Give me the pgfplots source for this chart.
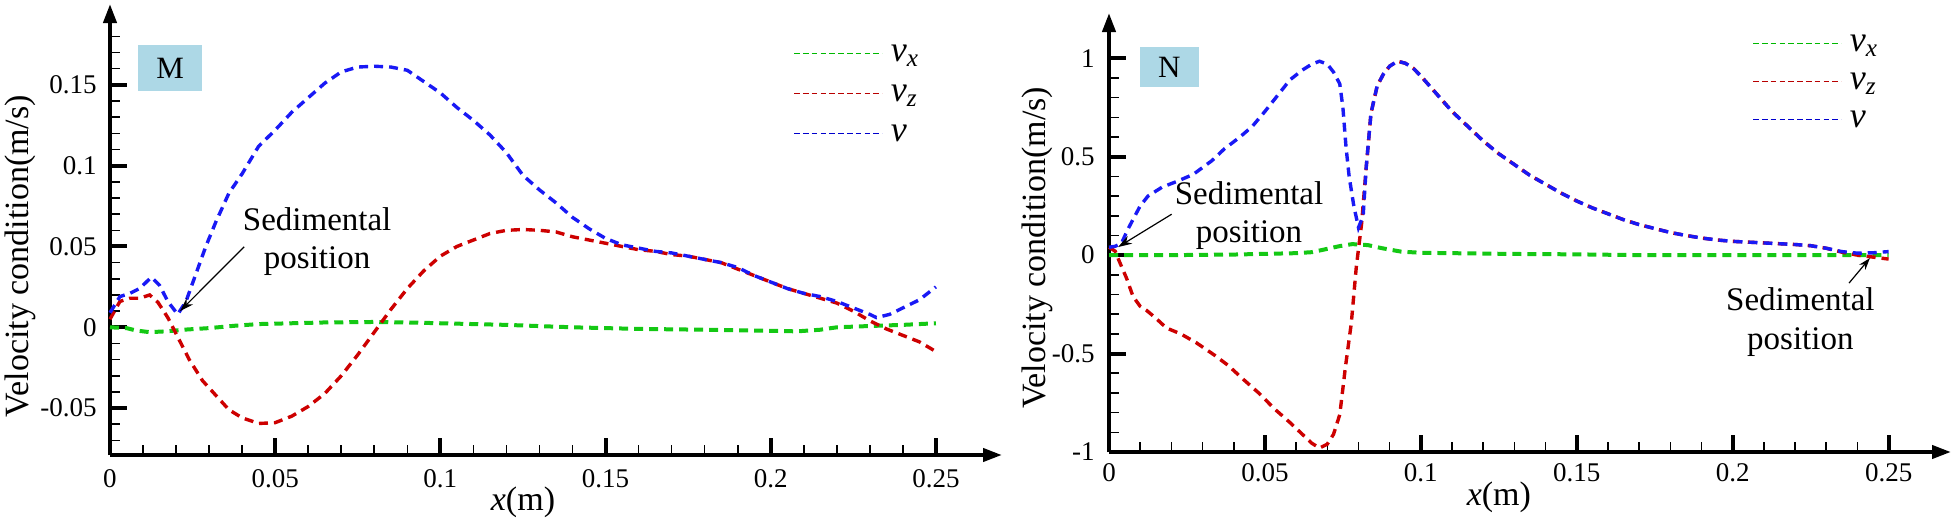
\documentclass[border=0pt]{standalone}
\usepackage{pgfplots}
\pgfplotsset{compat=1.18}
\usepackage{fontspec}
\setmainfont{Liberation Serif}
\usetikzlibrary{arrows.meta}
\definecolor{cgreen}{RGB}{20,200,20}
\definecolor{cred}{RGB}{205,0,0}
\definecolor{cblue}{RGB}{25,25,245}
\definecolor{lgreen}{RGB}{0,185,0}
\definecolor{lred}{RGB}{185,0,0}
\definecolor{lblue}{RGB}{0,0,205}
\definecolor{boxblue}{RGB}{173,216,230}

\pgfplotstableread{
x y
0 0.009
0.003 0.019
0.006 0.021
0.009 0.024
0.0125 0.031
0.015 0.026
0.0175 0.016
0.0205 0.008
0.023 0.016
0.026 0.033
0.029 0.050
0.032 0.065
0.036 0.083
0.040 0.095
0.045 0.112
0.050 0.122
0.055 0.133
0.060 0.142
0.065 0.151
0.070 0.158
0.075 0.161
0.080 0.1615
0.085 0.161
0.090 0.159
0.095 0.152
0.100 0.145
0.105 0.136
0.110 0.128
0.115 0.119
0.120 0.108
0.125 0.094
0.130 0.085
0.135 0.077
0.140 0.068
0.145 0.061
0.150 0.055
0.155 0.051
0.160 0.049
0.165 0.047
0.170 0.046
0.175 0.044
0.180 0.042
0.185 0.040
0.190 0.037
0.195 0.032
0.200 0.028
0.205 0.024
0.210 0.021
0.215 0.019
0.220 0.016
0.225 0.012
0.230 0.008
0.232 0.006
0.236 0.008
0.240 0.012
0.245 0.017
0.250 0.025
}\Mv

\pgfplotstableread{
x y
0 0.005
0.003 0.016
0.006 0.018
0.009 0.018
0.012 0.020
0.0145 0.0155
0.0175 0.006
0.020 -0.004
0.024 -0.020
0.028 -0.033
0.032 -0.042
0.036 -0.051
0.040 -0.056
0.045 -0.0595
0.050 -0.059
0.055 -0.055
0.060 -0.049
0.065 -0.041
0.070 -0.030
0.075 -0.017
0.080 -0.003
0.085 0.011
0.090 0.024
0.095 0.035
0.100 0.044
0.105 0.050
0.110 0.054
0.115 0.058
0.120 0.060
0.125 0.0605
0.130 0.060
0.135 0.059
0.140 0.056
0.145 0.054
0.150 0.052
0.155 0.050
0.160 0.048
0.165 0.047
0.170 0.045
0.175 0.044
0.180 0.042
0.185 0.040
0.190 0.036
0.195 0.032
0.200 0.028
0.205 0.024
0.210 0.021
0.215 0.018
0.220 0.015
0.225 0.010
0.230 0.004
0.235 -0.001
0.240 -0.005
0.245 -0.009
0.250 -0.015
}\Mvz

\pgfplotstableread{
x y
0 0.0
0.005 -0.0005
0.008 -0.002
0.012 -0.003
0.017 -0.0025
0.023 -0.0014
0.030 -0.0005
0.038 0.001
0.045 0.002
0.055 0.0025
0.065 0.003
0.080 0.0033
0.090 0.003
0.100 0.0025
0.120 0.0015
0.140 0.000
0.160 -0.001
0.180 -0.0015
0.200 -0.0022
0.208 -0.0025
0.215 -0.0015
0.220 0.000
0.230 0.0008
0.240 0.0015
0.250 0.0025
}\Mvx

\pgfplotstableread{
x y
0 0.04
0.002 0.045
0.004 0.06
0.006 0.13
0.008 0.19
0.010 0.25
0.0125 0.30
0.017 0.345
0.022 0.376
0.027 0.41
0.033 0.48
0.037 0.54
0.042 0.60
0.046 0.655
0.050 0.73
0.054 0.81
0.058 0.89
0.062 0.94
0.065 0.97
0.0675 0.985
0.070 0.97
0.072 0.93
0.074 0.87
0.075 0.75
0.076 0.55
0.077 0.40
0.0785 0.25
0.080 0.14
0.0815 0.20
0.0825 0.45
0.084 0.72
0.086 0.86
0.088 0.92
0.090 0.96
0.0925 0.985
0.095 0.975
0.0975 0.95
0.100 0.91
0.105 0.82
0.110 0.73
0.115 0.655
0.120 0.58
0.125 0.515
0.130 0.46
0.135 0.405
0.140 0.36
0.145 0.315
0.150 0.275
0.155 0.24
0.160 0.21
0.165 0.18
0.170 0.155
0.175 0.135
0.180 0.115
0.185 0.10
0.190 0.087
0.195 0.077
0.200 0.07
0.205 0.066
0.210 0.062
0.215 0.058
0.220 0.054
0.225 0.048
0.230 0.035
0.235 0.018
0.240 0.01
0.245 0.012
0.250 0.018
}\Nv

\pgfplotstableread{
x y
0 0.04
0.002 0.02
0.003 -0.02
0.0057 -0.12
0.0077 -0.21
0.010 -0.26
0.012 -0.28
0.015 -0.32
0.0184 -0.37
0.023 -0.40
0.028 -0.445
0.034 -0.51
0.0382 -0.56
0.043 -0.63
0.048 -0.70
0.053 -0.78
0.058 -0.85
0.062 -0.91
0.065 -0.955
0.0675 -0.98
0.070 -0.96
0.072 -0.91
0.074 -0.81
0.0758 -0.57
0.0777 -0.345
0.0793 -0.06
0.081 0.16
0.0825 0.45
0.084 0.72
0.086 0.86
0.088 0.92
0.090 0.96
0.0925 0.985
0.095 0.975
0.0975 0.95
0.100 0.91
0.105 0.82
0.110 0.73
0.115 0.655
0.120 0.58
0.125 0.515
0.130 0.46
0.135 0.405
0.140 0.36
0.145 0.315
0.150 0.275
0.155 0.24
0.160 0.21
0.165 0.18
0.170 0.155
0.175 0.135
0.180 0.115
0.185 0.10
0.190 0.087
0.195 0.077
0.200 0.07
0.205 0.066
0.210 0.062
0.215 0.058
0.220 0.054
0.225 0.048
0.230 0.035
0.235 0.015
0.240 0.0
0.245 -0.01
0.250 -0.02
}\Nvz

\pgfplotstableread{
x y
0 0.0
0.02 0.0
0.04 0.003
0.06 0.01
0.065 0.015
0.068 0.025
0.074 0.046
0.078 0.056
0.083 0.051
0.0876 0.035
0.0936 0.018
0.10 0.012
0.11 0.01
0.13 0.006
0.15 0.004
0.17 0.0
0.20 0.0
0.23 0.0
0.25 0.0
}\Nvx

\pgfplotsset{
  myaxis/.style={
    scale only axis,
    axis lines=left,
    axis line style={line width=2pt, -{Triangle[length=9.5pt,width=6.5pt]}},
    tick align=inside,
    major tick length=8.5pt,
    minor tick length=5pt,
    major tick style={line width=2pt, black},
    minor tick style={line width=0.8pt, black},
    ticklabel style={font=\fontsize{13.5}{16}\selectfont},
    yticklabel style={anchor=east, inner sep=0pt, xshift=-6.5pt},
    xticklabel style={anchor=base, inner sep=0pt},
    label style={font=\fontsize{17}{20}\selectfont},
    xlabel={\textit{x}(m)},
    ylabel={Velocity condition(m/s)},
    xmin=0, xmax=0.27,
    xtick={0,0.05,0.1,0.15,0.2,0.25},
    xticklabels={0,0.05,0.1,0.15,0.2,0.25},
    minor xtick={0.01,0.02,0.03,0.04,0.06,0.07,0.08,0.09,0.11,0.12,0.13,0.14,0.16,0.17,0.18,0.19,0.21,0.22,0.23,0.24},
    clip=false,
    legend image code/.code={\draw[#1] (0pt,0pt) -- (44pt,0pt);},
    legend cell align=left,
    legend style={draw=none, fill=none, inner sep=0pt,
      font=\fontsize{18}{20}\selectfont,
      nodes={inner xsep=4pt, inner ysep=0pt, text height=12pt, text depth=4pt}},
    curve/.style={line width=1.7pt, dash pattern=on 4.5pt off 3pt},
    gcurve/.style={line width=2pt, dash pattern=on 4.5pt off 3pt},
    leg/.style={line width=0.7pt, dash pattern=on 2.8pt off 1.6pt},
  }
}

\begin{document}
\begin{tikzpicture}
\useasboundingbox (0pt,0pt) rectangle (978pt,-262pt);

% ---------------- Panel M ----------------
\begin{axis}[myaxis,
  at={(55pt,-227.5pt)}, anchor=south west,
  width=446pt, height=225.5pt,
  ymin=-0.079, ymax=0.2,
  ytick={-0.05,0,0.05,0.1,0.15},
  yticklabels={-0.05,0,0.05,0.1,0.15},
  minor ytick={-0.07,-0.06,-0.04,-0.03,-0.02,-0.01,0.01,0.02,0.03,0.04,0.06,0.07,0.08,0.09,0.11,0.12,0.13,0.14,0.16,0.17,0.18},
  xticklabel style={yshift=-16pt},
  xlabel style={at={(rel axis cs:0.463,0)}, anchor=base, yshift=-27.5pt},
  ylabel style={at={(rel axis cs:-0.0919,0.441)}, anchor=base},
  legend style={at={(rel axis cs:0.7657,0.927)}, anchor=north west, row sep=4pt},
]
\addlegendimage{leg, lgreen}
\addlegendentry{\textit{v}\textsubscript{\textit{x}}}
\addlegendimage{leg, lred}
\addlegendentry{\textit{v}\textsubscript{\textit{z}}}
\addlegendimage{leg, lblue}
\addlegendentry{\textit{v}}
\addplot[gcurve, cgreen, forget plot] table[x=x,y=y] {\Mvx};
\addplot[curve, cred, forget plot] table[x=x,y=y] {\Mvz};
\addplot[curve, cblue, forget plot] table[x=x,y=y] {\Mv};
\fill[boxblue] (axis cs:0.0085,0.1745) rectangle (axis cs:0.0279,0.1464);
\node[font=\fontsize{15.5}{18}\selectfont] at (axis cs:0.0182,0.1605) {M};
\draw[line width=0.6pt, -{Stealth[length=7pt,width=4.5pt]}] (axis cs:0.0406,0.0498) -- (axis cs:0.0212,0.0100);
\node[font=\fontsize{16.5}{19}\selectfont, anchor=base] at (axis cs:0.0627,0.0598) {Sedimental};
\node[font=\fontsize{16.5}{19}\selectfont, anchor=base] at (axis cs:0.0627,0.0361) {position};
\end{axis}

% ---------------- Panel N ----------------
\begin{axis}[myaxis,
  at={(554.5pt,-226pt)}, anchor=south west,
  width=421pt, height=219.5pt,
  ymin=-1, ymax=1.23,
  ytick={-1,-0.5,0,0.5,1},
  yticklabels={-1,-0.5,0,0.5,1},
  minor ytick={-0.9,-0.8,-0.7,-0.6,-0.4,-0.3,-0.2,-0.1,0.1,0.2,0.3,0.4,0.6,0.7,0.8,0.9},
  yticklabel style={xshift=-0.5pt},
  xticklabel style={yshift=-14.5pt},
  xlabel style={at={(rel axis cs:0.463,0)}, anchor=base, yshift=-26.5pt},
  ylabel style={at={(rel axis cs:-0.076,0.4647)}, anchor=base},
  legend style={at={(rel axis cs:0.7637,0.968)}, anchor=north west, row sep=3pt},
]
\addlegendimage{leg, lgreen}
\addlegendentry{\textit{v}\textsubscript{\textit{x}}}
\addlegendimage{leg, lred}
\addlegendentry{\textit{v}\textsubscript{\textit{z}}}
\addlegendimage{leg, lblue}
\addlegendentry{\textit{v}}
\addplot[gcurve, cgreen, forget plot] table[x=x,y=y] {\Nvx};
\addplot[curve, cred, forget plot] table[x=x,y=y] {\Nvz};
\addplot[curve, cblue, forget plot] table[x=x,y=y] {\Nv};
\fill[boxblue] (axis cs:0.0099,1.056) rectangle (axis cs:0.0287,0.853);
\node[font=\fontsize{15.5}{18}\selectfont] at (axis cs:0.0193,0.9545) {N};
\draw[line width=0.6pt, -{Stealth[length=7pt,width=4.5pt]}] (axis cs:0.0201,0.208) -- (axis cs:0.0029,0.041);
\node[font=\fontsize{16.5}{19}\selectfont, anchor=base] at (axis cs:0.0449,0.259) {Sedimental};
\node[font=\fontsize{16.5}{19}\selectfont, anchor=base] at (axis cs:0.0449,0.066) {position};
\draw[line width=0.6pt, -{Stealth[length=6pt,width=4pt]}] (axis cs:0.2373,-0.142) -- (axis cs:0.244,-0.015);
\node[font=\fontsize{16.5}{19}\selectfont, anchor=base] at (axis cs:0.2217,-0.279) {Sedimental};
\node[font=\fontsize{16.5}{19}\selectfont, anchor=base] at (axis cs:0.2217,-0.477) {position};
\end{axis}
\end{tikzpicture}
\end{document}
